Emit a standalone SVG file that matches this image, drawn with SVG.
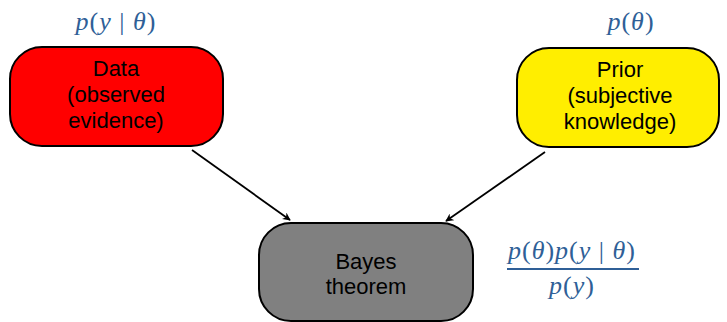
<svg xmlns="http://www.w3.org/2000/svg" width="727" height="322" viewBox="0 0 727 322">
<defs>
<style>
.box{stroke:#000;stroke-width:2}
.lbl{font-family:"Liberation Sans","DejaVu Sans",sans-serif;font-size:22px;fill:#000;text-anchor:middle}
.math{font-family:"Liberation Serif","DejaVu Serif",serif;font-style:italic;font-size:26px;fill:#2f5f97;text-anchor:middle;letter-spacing:1px}
.up{font-style:normal}
.edge{stroke:#000;stroke-width:1.8;fill:none;marker-end:url(#ah)}
</style>
<marker id="ah" viewBox="0 0 10 10" refX="9" refY="5" markerWidth="8" markerHeight="8" orient="auto" markerUnits="userSpaceOnUse">
<path d="M0,0 L10,5 L0,10 L3,5 Z" fill="#000"/>
</marker>
</defs>
<rect width="727" height="322" fill="#fff"/>
<g id="edges">
<line class="edge" x1="192" y1="150" x2="290" y2="220"/>
<line class="edge" x1="545" y1="152" x2="446" y2="221"/>
</g>
<g id="data">
<rect class="box" x="10" y="47" width="213" height="99" rx="32" fill="#ff0000"/>
<text class="lbl" x="116" y="76">Data</text>
<text class="lbl" x="116" y="102">(observed</text>
<text class="lbl" x="116" y="128">evidence)</text>
</g>
<g id="prior">
<rect class="box" x="517" y="48" width="202" height="99" rx="32" fill="#ffee00"/>
<text class="lbl" x="620" y="77">Prior</text>
<text class="lbl" x="620" y="103">(subjective</text>
<text class="lbl" x="620" y="129">knowledge)</text>
</g>
<g id="bayes">
<rect class="box" x="259" y="223" width="214" height="98" rx="32" fill="#808080"/>
<text class="lbl" x="366" y="269">Bayes</text>
<text class="lbl" x="366" y="294">theorem</text>
</g>
<g id="labels">
<text class="math" x="116" y="30">p<tspan class="up">(</tspan>y <tspan class="up">|</tspan> θ<tspan class="up">)</tspan></text>
<text class="math" x="631" y="30">p<tspan class="up">(</tspan>θ<tspan class="up">)</tspan></text>
<text class="math" x="572" y="259">p<tspan class="up">(</tspan>θ<tspan class="up">)</tspan>p<tspan class="up">(</tspan>y <tspan class="up">|</tspan> θ<tspan class="up">)</tspan></text>
<line x1="507" y1="269" x2="639" y2="269" stroke="#2f5f97" stroke-width="1.8"/>
<text class="math" x="572" y="294">p<tspan class="up">(</tspan>y<tspan class="up">)</tspan></text>
</g>
</svg>
